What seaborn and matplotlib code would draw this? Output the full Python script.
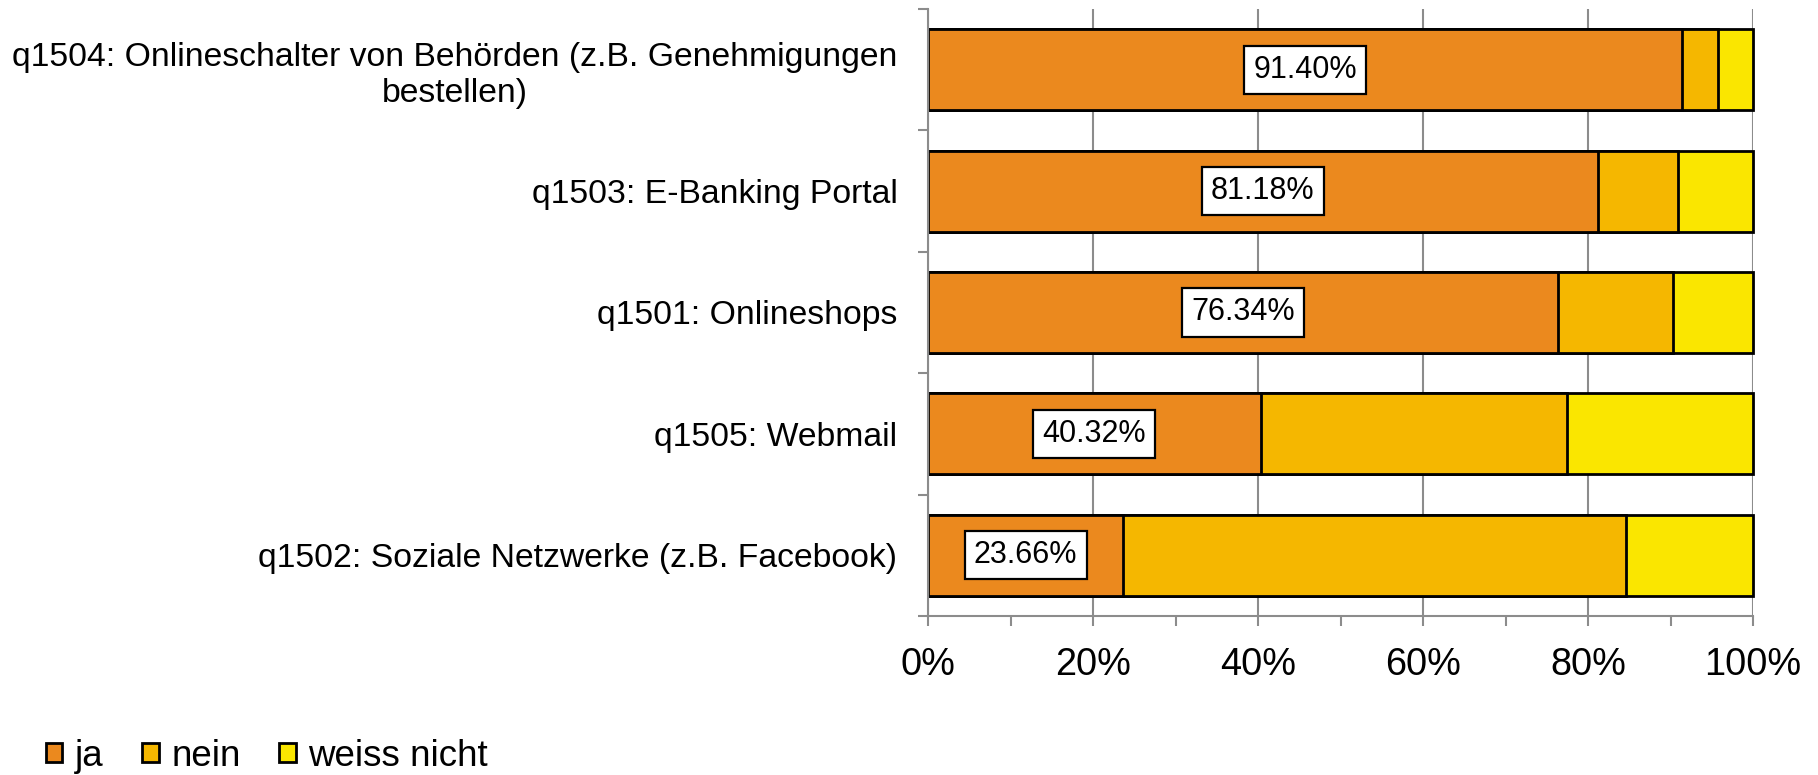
import matplotlib
matplotlib.use("Agg")
import matplotlib.pyplot as plt
from matplotlib.patches import Patch
from matplotlib.ticker import FixedLocator, MultipleLocator, PercentFormatter
import seaborn as sns
import pandas as pd
import numpy as np

# data (percent), top to bottom
questions = [
    "q1504: Onlineschalter von Behörden (z.B. Genehmigungen\nbestellen)",
    "q1503: E-Banking Portal",
    "q1501: Onlineshops",
    "q1505: Webmail",
    "q1502: Soziale Netzwerke (z.B. Facebook)",
]
ja = [91.40, 81.18, 76.34, 40.32, 23.66]
nein = [4.30, 9.70, 14.00, 37.10, 60.90]
weiss_nicht = [4.30, 9.12, 9.66, 22.58, 15.44]

series = ["ja", "nein", "weiss nicht"]
colors = ["#EB891E", "#F5B700", "#FAE600"]

sns.set_theme(style="white")
plt.rcParams["font.family"] = ["Liberation Sans", "DejaVu Sans"]
plt.rcParams["text.color"] = "black"

df = pd.DataFrame({"frage": questions, "ja": ja, "nein": nein, "weiss nicht": weiss_nicht})
df["cum_ja"] = df["ja"]
df["cum_nein"] = df["ja"] + df["nein"]
df["cum_weiss"] = df["cum_nein"] + df["weiss nicht"]

fig = plt.figure(figsize=(18.18, 7.75), dpi=100)
ax = fig.add_axes([928 / 1818, 1 - 616 / 775, 825 / 1818, 607 / 775])

# stacked bars: draw the cumulative totals from the back to the front
for col, c in zip(["cum_weiss", "cum_nein", "cum_ja"], colors[::-1]):
    sns.barplot(data=df, x=col, y="frage", color=c, saturation=1, width=0.667,
                edgecolor="black", linewidth=2, orient="h", ax=ax, zorder=2)
for p in ax.patches:
    p.set_clip_on(False)

# value boxes for "ja"
for i, v in enumerate(ja):
    ax.text(v / 2, i, f"{v:.2f}%", ha="center", va="center", fontsize=22, color="black",
            bbox=dict(boxstyle="square,pad=0.3", facecolor="white", edgecolor="black", linewidth=1.6),
            zorder=5)

ax.set_xlim(0, 100)
ax.set_ylim(len(questions) - 0.5, -0.5)
ax.set_xlabel("")
ax.set_ylabel("")

ax.xaxis.set_major_locator(MultipleLocator(20))
ax.xaxis.set_minor_locator(MultipleLocator(10))
ax.xaxis.set_major_formatter(PercentFormatter(decimals=0))
ax.grid(axis="x", which="major", color="#8C8C8C", linewidth=1.5)
ax.grid(axis="y", visible=False)
ax.set_axisbelow(True)

ax.yaxis.set_minor_locator(FixedLocator(np.arange(-0.5, len(questions), 1)))
ax.tick_params(axis="y", which="major", length=0, pad=22, labelsize=24.3, labelcolor="black")
ax.tick_params(axis="y", which="minor", left=True, length=7, width=1.5, color="#8C8C8C", direction="out")
ax.tick_params(axis="x", which="both", bottom=True, length=7, width=1.5, color="#8C8C8C", direction="out")
ax.tick_params(axis="x", which="major", pad=15, labelsize=27.3, labelcolor="black")
for lbl in ax.get_yticklabels():
    lbl.set_multialignment("center")

for s in ["top", "right"]:
    ax.spines[s].set_visible(False)
for s in ["left", "bottom"]:
    ax.spines[s].set_color("#8C8C8C")
    ax.spines[s].set_linewidth(1.5)

handles = [Patch(facecolor=c, edgecolor="black", linewidth=2) for c in colors]
fig.legend(handles, series, loc="center left", bbox_to_anchor=(46 / 1818, 1 - 756 / 775),
           ncol=3, frameon=False, fontsize=26.5, handlelength=0.44, handleheight=0.44,
           handletextpad=0.35, columnspacing=1.05, borderaxespad=0, borderpad=0,
           labelcolor="black")

fig.savefig("out.png", dpi=100)
